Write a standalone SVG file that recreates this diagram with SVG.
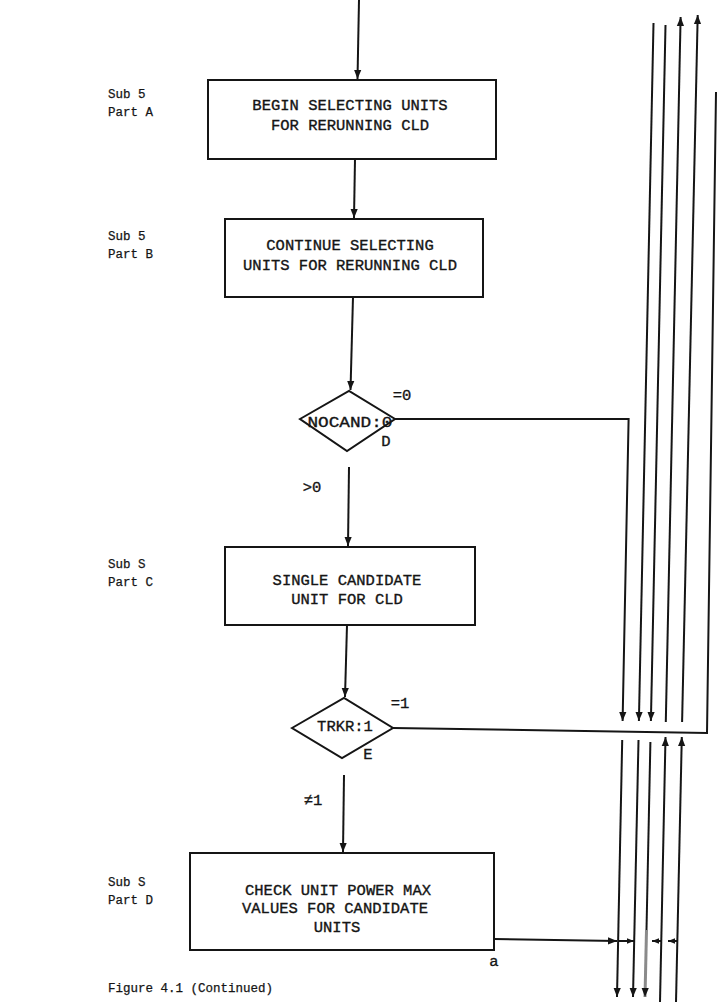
<svg xmlns="http://www.w3.org/2000/svg" width="718" height="1002" viewBox="0 0 718 1002">
<style>
.ln{stroke:#151515;stroke-width:2;fill:none}
.bx{stroke:#151515;stroke-width:2;fill:none}
.t{font-family:"Liberation Mono",monospace;font-size:15.5px;fill:#151515;stroke:#151515;stroke-width:0.35;text-anchor:middle}
.lb{font-family:"Liberation Mono",monospace;font-size:12.5px;fill:#151515;stroke:#151515;stroke-width:0.25}
</style>
<defs>
<marker id="ah" viewBox="0 0 10 10" refX="10" refY="5" markerWidth="9" markerHeight="9" markerUnits="userSpaceOnUse" orient="auto"><path d="M0,1 L10,5 L0,9 z" fill="#151515"/></marker>
<marker id="as" viewBox="0 0 10 10" refX="10" refY="5" markerWidth="7" markerHeight="7" markerUnits="userSpaceOnUse" orient="auto"><path d="M0,1 L10,5 L0,9 z" fill="#151515"/></marker>
</defs>
<rect width="718" height="1002" fill="#fff"/>

<g id="labels">
<text class="lb" x="108" y="98">Sub 5</text>
<text class="lb" x="108" y="116">Part A</text>
<text class="lb" x="108" y="240">Sub 5</text>
<text class="lb" x="108" y="258">Part B</text>
<text class="lb" x="108" y="568">Sub S</text>
<text class="lb" x="108" y="586">Part C</text>
<text class="lb" x="108" y="886">Sub S</text>
<text class="lb" x="108" y="904">Part D</text>
<text class="lb" x="108" y="992">Figure 4.1 (Continued)</text>
</g>

<g id="boxA">
<rect class="bx" x="208" y="80" width="288" height="79"/>
<text class="t" x="350" y="110">BEGIN SELECTING UNITS</text>
<text class="t" x="350" y="130">FOR RERUNNING CLD</text>
</g>
<g id="boxB">
<rect class="bx" x="225" y="219" width="258" height="78"/>
<text class="t" x="350" y="250">CONTINUE SELECTING</text>
<text class="t" x="350" y="270">UNITS FOR RERUNNING CLD</text>
</g>
<g id="nocand">
<polygon class="bx" points="300,419 349,391 395,419 347,451"/>
<text class="t" x="350" y="427" textLength="85" lengthAdjust="spacingAndGlyphs">NOCAND:0</text>
<text class="t" x="402" y="400">=0</text>
<text class="t" x="386" y="446">D</text>
</g>
<g id="boxC">
<rect class="bx" x="225" y="547" width="250" height="78"/>
<text class="t" x="347" y="585">SINGLE CANDIDATE</text>
<text class="t" x="347" y="604">UNIT FOR CLD</text>
</g>
<g id="trkr">
<polygon class="bx" points="292,728 344,698 393,728 342,758"/>
<text class="t" x="345" y="731">TRKR:1</text>
<text class="t" x="400" y="708">=1</text>
<text class="t" x="368" y="759">E</text>
</g>
<g id="boxD">
<rect class="bx" x="190" y="853" width="304" height="97"/>
<text class="t" x="338" y="895">CHECK UNIT POWER MAX</text>
<text class="t" x="335" y="913">VALUES FOR CANDIDATE</text>
<text class="t" x="337" y="932">UNITS</text>
<text class="t" x="494" y="966">a</text>
</g>
<g id="edgeLabels">
<text class="t" x="312" y="492">&gt;0</text>
<text class="t" x="313" y="805">≠1</text>
</g>

<g id="connectors">
<line class="ln" x1="359" y1="0" x2="357.5" y2="79" marker-end="url(#ah)"/>
<line class="ln" x1="355" y1="159" x2="354" y2="218" marker-end="url(#ah)"/>
<line class="ln" x1="353" y1="297" x2="350.5" y2="390" marker-end="url(#ah)"/>
<line class="ln" x1="349" y1="467" x2="348" y2="546" marker-end="url(#ah)"/>
<line class="ln" x1="347" y1="625" x2="345" y2="697" marker-end="url(#ah)"/>
<line class="ln" x1="344" y1="775" x2="343" y2="852" marker-end="url(#ah)"/>
<path class="ln" d="M395,419 H628.6 L622.6,721" marker-end="url(#ah)"/>
<path class="ln" d="M393,728 L707,733 L716,92"/>
<path class="ln" d="M494,939 L617,941" marker-end="url(#ah)"/>
<line class="ln" x1="653.5" y1="23" x2="638.9" y2="721" marker-end="url(#ah)"/>
<line class="ln" x1="665.5" y1="25" x2="650.9" y2="721" marker-end="url(#ah)"/>
<line class="ln" x1="665.8" y1="722" x2="680.6" y2="17" marker-end="url(#ah)"/>
<line class="ln" x1="682.1" y1="722" x2="697.7" y2="15" marker-end="url(#ah)"/>
<line class="ln" x1="622.2" y1="740" x2="617" y2="997" marker-end="url(#ah)"/>
<line class="ln" x1="638.5" y1="740" x2="633" y2="997" marker-end="url(#ah)"/>
<line class="ln" x1="650.4" y1="742" x2="646.5" y2="930"/>
<line x1="646.5" y1="930" x2="645" y2="997" stroke="#8a8a8a" stroke-width="3" marker-end="url(#ah)"/>
<line class="ln" x1="660" y1="1002" x2="665.5" y2="737" marker-end="url(#ah)"/>
<line class="ln" x1="676" y1="1002" x2="681.8" y2="737" marker-end="url(#ah)"/>
<line class="ln" x1="619" y1="941" x2="634" y2="941" marker-end="url(#as)"/>
<line class="ln" x1="661" y1="941" x2="652" y2="941" marker-end="url(#as)"/>
<line class="ln" x1="677" y1="941" x2="668" y2="941" marker-end="url(#as)"/>
</g>
</svg>
